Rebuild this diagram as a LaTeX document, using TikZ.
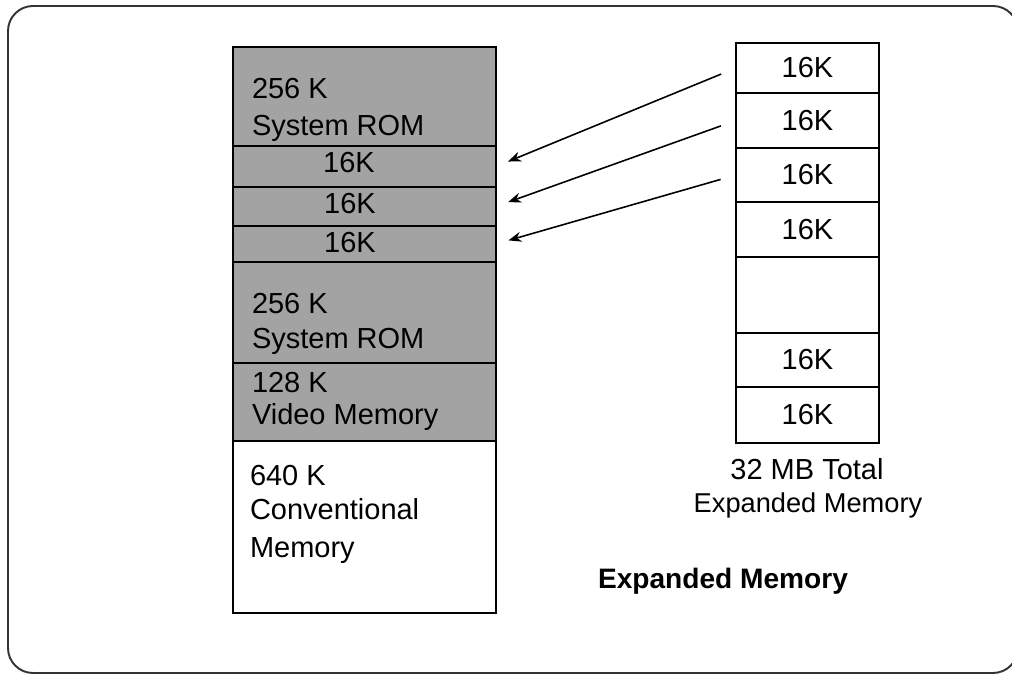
\documentclass[tikz,border=0pt]{standalone}
\usepackage{fontspec}
\setmainfont{Liberation Sans}
\usetikzlibrary{arrows.meta}
\begin{document}
\begin{tikzpicture}[x=0.02cm, y=-0.02cm,
  blk/.style={draw=black, line width=1.6pt, inner sep=0pt, outer sep=0pt, anchor=north west},
  lcell/.style={blk, minimum width=5.26cm},
  shaded/.style={lcell, fill=black!36},
  rcell/.style={blk, minimum width=2.86cm, font=\fontsize{16.5}{20}\selectfont},
  lbl/.style={inner sep=0pt, outer sep=0pt, font=\fontsize{16.5}{20}\selectfont},
  arr/.style={draw=black, line width=0.9pt, -{Stealth[length=0.26cm,width=0.2cm]},
              shorten <=0.32cm, shorten >=0.26cm},
  frame/.style={draw=black!80, line width=1.1pt, rounded corners=0.5cm}]
\useasboundingbox (0,0) rectangle (1012,675);

% outer frame (its right side runs just past the page edge)
\draw[frame] (8,6) rectangle (1018,673);

% conventional memory map (first megabyte)
\node[shaded, minimum height=1.98cm] (rom1)  at (233,47)  {};
\node[shaded, minimum height=0.82cm] (k1)    at (233,146) {};
\node[shaded, minimum height=0.78cm] (k2)    at (233,187) {};
\node[shaded, minimum height=0.72cm] (k3)    at (233,226) {};
\node[shaded, minimum height=2.02cm] (rom2)  at (233,262) {};
\node[shaded, minimum height=1.56cm] (video) at (233,363) {};
\node[lcell,  minimum height=3.44cm] (conv)  at (233,441) {};

\node[lbl, anchor=north west] (rom1a) at (252,78)  {256 K};
\node[lbl, anchor=north west] (rom1b) at (252,115) {System ROM};
\node[lbl] (k1t) at (349,163) {16K};
\node[lbl] (k2t) at (350,204) {16K};
\node[lbl] (k3t) at (350,243) {16K};
\node[lbl, anchor=north west] (rom2a) at (252,293) {256 K};
\node[lbl, anchor=north west] (rom2b) at (252,328) {System ROM};
\node[lbl, anchor=north west] (vida)  at (252,372) {128 K};
\node[lbl, anchor=north west] (vidb)  at (252,403) {Video Memory};
\node[lbl, anchor=north west] (conva) at (250,465) {640 K};
\node[lbl, anchor=north west] (convb) at (250,498) {Conventional};
\node[lbl, anchor=north west] (convc) at (250,538) {Memory};

% expanded memory pages
\node[rcell, minimum height=1.00cm] (e1) at (736,43)  {16K};
\node[rcell, minimum height=1.10cm] (e2) at (736,93)  {16K};
\node[rcell, minimum height=1.08cm] (e3) at (736,148) {16K};
\node[rcell, minimum height=1.10cm] (e4) at (736,202) {16K};
\node[rcell, minimum height=1.52cm] (e5) at (736,257) {};
\node[rcell, minimum height=1.08cm] (e6) at (736,333) {16K};
\node[rcell, minimum height=1.12cm] (e7) at (736,387) {16K};

\node[lbl, anchor=north] (total) at (807,458) {32 MB Total};
\node[lbl, anchor=north, font=\fontsize{15.5}{18}\selectfont] (emcap) at (808,493) {Expanded Memory};
\node[lbl, font=\fontsize{16}{19}\selectfont\bfseries] (title) at (723,581) {Expanded Memory};

% page mapping
\draw[arr] (e1.west) -- (k1.east);
\draw[arr] (e2.west) -- (k2.east);
\draw[arr] (e3.west) -- (k3.east);
\end{tikzpicture}
\end{document}
